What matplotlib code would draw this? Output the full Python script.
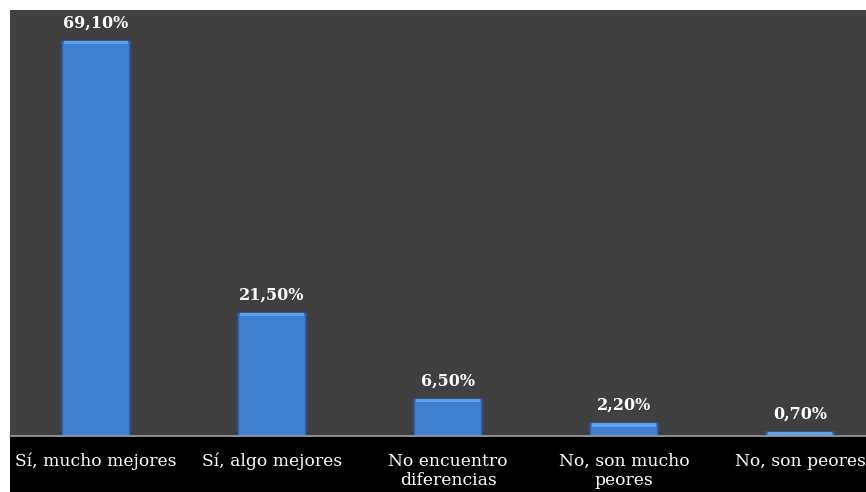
import matplotlib.pyplot as plt
from matplotlib.patches import Rectangle

categories = ["Sí, mucho mejores", "Sí, algo mejores", "No encuentro\ndiferencias",
              "No, son mucho\npeores", "No, son peores"]
values = [69.1, 21.5, 6.5, 2.2, 0.7]
value_labels = ["69,10%", "21,50%", "6,50%", "2,20%", "0,70%"]

W, H = 866, 492
fig = plt.figure(figsize=(W / 100, H / 100), dpi=100, facecolor='white')

# black band under the axis for the category labels
band = fig.add_axes([10 / W, 0, 856 / W, 56 / H])
band.set_facecolor('black')
band.set_xticks([])
band.set_yticks([])
for s in band.spines.values():
    s.set_visible(False)
band.set_zorder(0)

ax = fig.add_axes([10 / W, 56 / H, 856 / W, 426 / H])
ax.set_zorder(1)
ax.set_facecolor('#404040')

x = range(len(categories))
bars = ax.bar(x, values, width=0.39, color='#3f7fd0', edgecolor='#2a5a9c', linewidth=1.2, zorder=2)

# lighter bevel strip on top of each bar
for b in bars:
    h = min(b.get_height(), 0.6)
    ax.add_patch(Rectangle((b.get_x() + 0.012, b.get_height() - h), b.get_width() - 0.024, h,
                           facecolor='#62a0e8', edgecolor='none', zorder=3))

for b, lab in zip(bars, value_labels):
    ax.annotate(lab, (b.get_x() + b.get_width() / 2, b.get_height()),
                xytext=(0, 7), textcoords='offset points', ha='center', va='bottom',
                color='white', fontsize=11.5, fontweight='semibold', family='DejaVu Serif')

ax.set_xlim(-0.489, 4.375)
ax.set_ylim(0, 74.5)
ax.set_yticks([])
ax.set_xticks(list(x))
ax.set_xticklabels(categories, color='white', fontsize=12.3, family='DejaVu Serif',
                   linespacing=1.2)
ax.tick_params(axis='x', length=0, pad=12)

for s in ['top', 'right', 'left']:
    ax.spines[s].set_visible(False)
ax.spines['bottom'].set_color('#a0a0a0')
ax.spines['bottom'].set_linewidth(1.2)

fig.savefig('out.png', dpi=100, facecolor='white')
